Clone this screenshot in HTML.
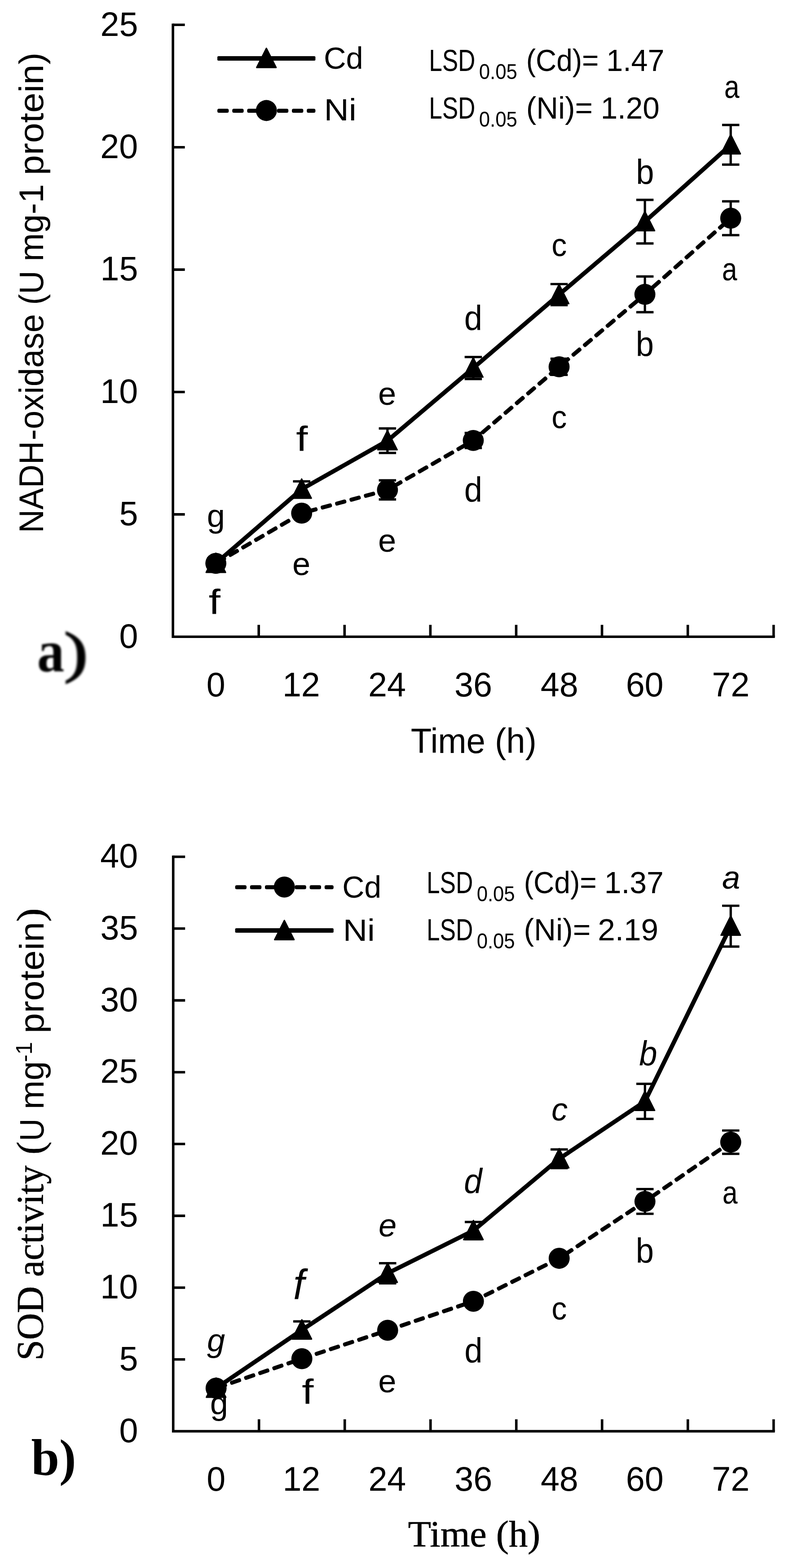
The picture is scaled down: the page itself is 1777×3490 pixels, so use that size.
<!DOCTYPE html>
<html lang="en"><head><meta charset="utf-8"><title>NADH-oxidase and SOD activity</title>
<style>
html,body{margin:0;padding:0;background:#fff}
svg{display:block}
text{fill:#000;white-space:pre}
.s{font-family:"Liberation Sans",sans-serif}
.r{font-family:"Liberation Serif",serif;stroke:#000;stroke-width:0.7px}
.i{font-style:italic}
.b{font-weight:bold;stroke:none}
</style></head><body>
<svg width="1777" height="3490" viewBox="0 0 1777 3490">
<defs><filter id="bl" x="-20%" y="-20%" width="140%" height="140%"><feGaussianBlur stdDeviation="2.2"/></filter></defs>
<rect width="1777" height="3490" fill="#fff"/>
<g>
<path d="M385.1 52.5V1417.3H1725.5" fill="none" stroke="#000" stroke-width="5.6" stroke-linejoin="miter"/>
<path d="M385.1 55.30h26.5M385.1 327.70h26.5M385.1 600.10h26.5M385.1 872.50h26.5M385.1 1144.90h26.5M576.19 1417.3v-26.5M767.27 1417.3v-26.5M958.36 1417.3v-26.5M1149.44 1417.3v-26.5M1340.53 1417.3v-26.5M1531.61 1417.3v-26.5M1722.70 1417.3v-26.5" fill="none" stroke="#000" stroke-width="5.6"/>
<path d="M480.64 1253.86L671.73 1088.79L862.81 980.92L1053.90 819.11L1244.99 655.67L1436.07 493.32L1627.16 322.25" fill="none" stroke="#000" stroke-width="9.5" stroke-linecap="round" stroke-linejoin="round"/>
<path d="M480.64 1242.96V1264.76M461.39 1242.96h38.5M461.39 1264.76h38.5M671.73 1071.35V1106.22M652.48 1071.35h38.5M652.48 1106.22h38.5M862.81 953.68V1008.16M843.56 953.68h38.5M843.56 1008.16h38.5M1053.90 794.59V843.63M1034.65 794.59h38.5M1034.65 843.63h38.5M1244.99 632.24V679.10M1225.74 632.24h38.5M1225.74 679.10h38.5M1436.07 444.83V541.81M1416.82 444.83h38.5M1416.82 541.81h38.5M1627.16 278.12V366.38M1607.91 278.12h38.5M1607.91 366.38h38.5" fill="none" stroke="#000" stroke-width="5.2"/>
<path d="M480.64 1231.26L502.24 1274.06H459.04Z" fill="#000" stroke="#000" stroke-width="3" stroke-linejoin="round"/>
<path d="M671.73 1066.19L693.33 1108.99H650.13Z" fill="#000" stroke="#000" stroke-width="3" stroke-linejoin="round"/>
<path d="M862.81 958.32L884.41 1001.12H841.21Z" fill="#000" stroke="#000" stroke-width="3" stroke-linejoin="round"/>
<path d="M1053.90 796.51L1075.50 839.31H1032.30Z" fill="#000" stroke="#000" stroke-width="3" stroke-linejoin="round"/>
<path d="M1244.99 633.07L1266.59 675.87H1223.39Z" fill="#000" stroke="#000" stroke-width="3" stroke-linejoin="round"/>
<path d="M1436.07 470.72L1457.67 513.52H1414.47Z" fill="#000" stroke="#000" stroke-width="3" stroke-linejoin="round"/>
<path d="M1627.16 299.65L1648.76 342.45H1605.56Z" fill="#000" stroke="#000" stroke-width="3" stroke-linejoin="round"/>
<path d="M484.17 1252.96L500.05 1243.67L499.05 1241.95L483.16 1251.23ZM512.83 1236.20L528.72 1226.92L527.71 1225.19L511.82 1234.48ZM541.50 1219.45L557.38 1210.17L556.37 1208.44L540.49 1217.72ZM570.16 1202.70L586.04 1193.41L585.04 1191.69L569.15 1200.97ZM598.82 1185.95L614.71 1176.66L613.70 1174.93L597.81 1184.22ZM627.49 1169.19L643.37 1159.91L642.36 1158.18L626.48 1167.47ZM656.15 1152.44L669.21 1144.81L668.20 1143.08L655.14 1150.71ZM674.05 1144.53L674.07 1144.52L672.56 1138.97L672.55 1138.98ZM686.05 1139.33L703.81 1134.52L703.29 1132.59L685.53 1137.40ZM718.10 1130.65L735.86 1125.84L735.34 1123.91L717.58 1128.72ZM750.14 1121.97L767.90 1117.16L767.38 1115.23L749.62 1120.04ZM782.19 1113.29L799.95 1108.48L799.43 1106.55L781.67 1111.36ZM814.23 1104.61L831.99 1099.80L831.47 1097.87L813.71 1102.68ZM846.28 1095.93L859.70 1092.30L859.17 1090.37L845.76 1094.00ZM865.88 1091.26L865.90 1091.25L863.64 1087.33L863.63 1087.34ZM877.00 1083.40L892.95 1074.22L891.95 1072.49L876.01 1081.67ZM905.77 1066.83L921.72 1057.65L920.72 1055.92L904.78 1065.10ZM934.54 1050.26L950.49 1041.08L949.49 1039.35L933.55 1048.53ZM963.31 1033.69L979.26 1024.51L978.26 1022.78L962.32 1031.96ZM992.08 1017.13L1008.03 1007.94L1007.03 1006.21L991.09 1015.39ZM1020.85 1000.56L1036.80 991.37L1035.80 989.64L1019.86 998.82ZM1049.62 983.99L1051.37 982.98L1050.37 981.25L1048.63 982.25ZM1057.21 978.85L1064.33 972.74L1063.03 971.22L1055.90 977.33ZM1075.56 963.10L1089.53 951.11L1088.22 949.60L1074.26 961.58ZM1100.76 941.48L1114.72 929.49L1113.42 927.98L1099.46 939.96ZM1125.95 919.85L1139.92 907.87L1138.61 906.35L1124.65 918.34ZM1151.15 898.23L1165.11 886.25L1163.81 884.73L1149.84 896.72ZM1176.34 876.61L1190.30 864.63L1189.00 863.11L1175.04 875.09ZM1201.54 854.99L1215.50 843.01L1214.20 841.49L1200.23 853.47ZM1226.73 833.37L1240.69 821.39L1239.39 819.87L1225.43 831.85ZM1251.96 811.81L1266.02 799.94L1264.73 798.41L1250.67 810.28ZM1277.34 790.39L1291.40 778.53L1290.11 777.00L1276.05 788.87ZM1302.71 768.98L1316.77 757.11L1315.48 755.59L1301.42 767.45ZM1328.08 747.57L1342.14 735.70L1340.85 734.17L1326.79 746.04ZM1353.45 726.16L1367.51 714.29L1366.22 712.76L1352.16 724.63ZM1378.82 704.74L1392.89 692.88L1391.60 691.35L1377.53 703.22ZM1404.20 683.33L1418.26 671.47L1416.97 669.94L1402.91 681.80ZM1429.57 661.92L1434.04 658.15L1432.75 656.62L1428.28 660.39ZM1439.35 653.55L1443.51 649.87L1442.18 648.37L1438.03 652.05ZM1454.58 640.05L1468.35 627.84L1467.02 626.35L1453.25 638.55ZM1479.42 618.02L1493.19 605.82L1491.86 604.32L1478.09 616.53ZM1504.26 596.00L1518.03 583.79L1516.70 582.29L1502.93 594.50ZM1529.10 573.97L1542.87 561.76L1541.54 560.27L1527.78 572.48ZM1553.94 551.95L1567.71 539.74L1566.38 538.24L1552.62 550.45ZM1578.78 529.92L1592.55 517.71L1591.23 516.22L1577.46 528.42ZM1603.63 507.89L1617.39 495.69L1616.07 494.19L1602.30 506.40ZM1628.28 488.96L1628.30 488.95L1624.06 484.17L1624.05 484.18Z" fill="#000" stroke="#000" stroke-width="7.0" stroke-linejoin="round"/>
<path d="M480.64 1242.96V1264.76M461.39 1242.96h38.5M461.39 1264.76h38.5M671.73 1134.00V1150.35M652.48 1134.00h38.5M652.48 1150.35h38.5M862.81 1069.17V1111.67M843.56 1069.17h38.5M843.56 1111.67h38.5M1053.90 963.48V997.26M1034.65 963.48h38.5M1034.65 997.26h38.5M1244.99 798.41V834.36M1225.74 798.41h38.5M1225.74 834.36h38.5M1436.07 615.35V694.90M1416.82 615.35h38.5M1416.82 694.90h38.5M1627.16 448.10V523.28M1607.91 448.10h38.5M1607.91 523.28h38.5" fill="none" stroke="#000" stroke-width="5.2"/>
<circle cx="480.64" cy="1253.86" r="23.4" fill="#000"/>
<circle cx="671.73" cy="1142.18" r="23.4" fill="#000"/>
<circle cx="862.81" cy="1090.42" r="23.4" fill="#000"/>
<circle cx="1053.90" cy="980.37" r="23.4" fill="#000"/>
<circle cx="1244.99" cy="816.39" r="23.4" fill="#000"/>
<circle cx="1436.07" cy="655.12" r="23.4" fill="#000"/>
<circle cx="1627.16" cy="485.69" r="23.4" fill="#000"/>
<rect x="484" y="124.9" width="218.39999999999998" height="10" rx="2.5" fill="#000"/>
<path d="M593.20 107.50L614.80 150.30H571.60Z" fill="#000" stroke="#000" stroke-width="3" stroke-linejoin="round"/>
<path d="M487.50 247.40L505.90 247.40L505.90 245.40L487.50 245.40ZM520.70 247.40L539.10 247.40L539.10 245.40L520.70 245.40ZM553.90 247.40L572.30 247.40L572.30 245.40L553.90 245.40ZM587.10 247.40L605.50 247.40L605.50 245.40L587.10 245.40ZM620.30 247.40L638.70 247.40L638.70 245.40L620.30 245.40ZM653.50 247.40L671.90 247.40L671.90 245.40L653.50 245.40ZM686.70 247.40L698.90 247.40L698.90 245.40L686.70 245.40Z" fill="#000" stroke="#000" stroke-width="7.0" stroke-linejoin="round"/>
<circle cx="593.20" cy="246.00" r="23.4" fill="#000"/>
<path d="M385.7 1904.2V3185.6H1725.5" fill="none" stroke="#000" stroke-width="5.6" stroke-linejoin="miter"/>
<path d="M385.7 1907.00h26.5M385.7 2066.82h26.5M385.7 2226.65h26.5M385.7 2386.47h26.5M385.7 2546.30h26.5M385.7 2706.12h26.5M385.7 2865.95h26.5M385.7 3025.77h26.5M576.70 3185.6v-26.5M767.70 3185.6v-26.5M958.70 3185.6v-26.5M1149.70 3185.6v-26.5M1340.70 3185.6v-26.5M1531.70 3185.6v-26.5M1722.70 3185.6v-26.5" fill="none" stroke="#000" stroke-width="5.6"/>
<path d="M484.84 3089.52L502.24 3083.54L501.59 3081.65L484.19 3087.62ZM516.24 3078.74L533.64 3072.77L532.99 3070.88L515.59 3076.85ZM547.64 3067.97L565.05 3062.00L564.40 3060.10L546.99 3066.08ZM579.04 3057.19L596.45 3051.22L595.80 3049.33L578.40 3055.30ZM610.45 3046.42L627.85 3040.45L627.20 3038.56L609.80 3044.53ZM641.85 3035.65L659.26 3029.67L658.61 3027.78L641.20 3033.75ZM671.92 3027.60L671.94 3027.59L669.90 3021.64L669.88 3021.65ZM675.84 3024.03L690.71 3019.10L690.08 3017.20L675.21 3022.13ZM704.76 3014.44L722.23 3008.65L721.60 3006.75L704.13 3012.54ZM736.28 3004.00L753.74 2998.21L753.11 2996.31L735.65 3002.10ZM767.79 2993.55L785.26 2987.77L784.63 2985.87L767.16 2991.66ZM799.31 2983.11L816.77 2977.32L816.14 2975.43L798.68 2981.21ZM830.82 2972.67L848.29 2966.88L847.66 2964.98L830.19 2970.77ZM861.61 2963.67L861.63 2963.66L860.29 2959.60L860.27 2959.60ZM866.84 2960.71L879.78 2956.34L879.13 2954.44L866.20 2958.82ZM893.80 2951.60L911.23 2945.71L910.59 2943.81L893.16 2949.70ZM925.25 2940.97L942.68 2935.07L942.04 2933.18L924.61 2939.07ZM956.70 2930.33L974.13 2924.44L973.49 2922.55L956.06 2928.44ZM988.15 2919.70L1005.58 2913.81L1004.94 2911.91L987.51 2917.81ZM1019.60 2909.07L1037.03 2903.18L1036.39 2901.28L1018.96 2907.17ZM1051.05 2898.44L1051.20 2898.38L1050.56 2896.49L1050.41 2896.54ZM1057.78 2895.64L1067.83 2890.62L1066.93 2888.83L1056.88 2893.86ZM1081.06 2883.99L1097.52 2875.76L1096.62 2873.97L1080.17 2882.20ZM1110.75 2869.14L1127.21 2860.90L1126.31 2859.11L1109.86 2867.35ZM1140.45 2854.28L1156.90 2846.04L1156.01 2844.26L1139.55 2852.49ZM1170.14 2839.42L1186.59 2831.19L1185.70 2829.40L1169.24 2837.63ZM1199.83 2824.56L1216.28 2816.33L1215.39 2814.54L1198.93 2822.78ZM1229.52 2809.71L1242.52 2803.20L1241.62 2801.41L1228.62 2807.92ZM1248.23 2801.83L1248.24 2801.82L1245.39 2797.52L1245.38 2797.53ZM1258.39 2793.20L1273.73 2783.03L1272.62 2781.37L1257.29 2791.53ZM1286.06 2774.86L1301.40 2764.69L1300.30 2763.03L1284.96 2773.19ZM1313.74 2756.52L1329.08 2746.35L1327.97 2744.69L1312.63 2754.85ZM1341.41 2738.18L1356.75 2728.01L1355.65 2726.35L1340.31 2736.51ZM1369.09 2719.84L1384.43 2709.67L1383.32 2708.01L1367.98 2718.17ZM1396.76 2701.50L1412.10 2691.33L1410.99 2689.66L1395.66 2699.83ZM1424.44 2683.16L1433.83 2676.93L1432.73 2675.26L1423.33 2681.49ZM1439.65 2672.99L1439.75 2672.92L1438.61 2671.28L1438.51 2671.35ZM1451.93 2664.51L1467.06 2654.04L1465.92 2652.40L1450.79 2662.86ZM1479.24 2645.63L1494.37 2635.17L1493.24 2633.52L1478.10 2643.98ZM1506.55 2626.75L1521.68 2616.29L1520.55 2614.65L1505.41 2625.11ZM1533.86 2607.88L1548.99 2597.41L1547.86 2595.77L1532.72 2606.23ZM1561.17 2589.00L1576.31 2578.54L1575.17 2576.89L1560.03 2587.35ZM1588.48 2570.12L1603.62 2559.66L1602.48 2558.01L1587.34 2568.48ZM1615.79 2551.25L1624.89 2544.96L1623.75 2543.31L1614.65 2549.60Z" fill="#000" stroke="#000" stroke-width="7.0" stroke-linejoin="round"/>
<path d="M481.20 3080.12V3099.29M461.95 3080.12h38.5M461.95 3099.29h38.5M672.20 3014.59V3033.77M652.95 3014.59h38.5M652.95 3033.77h38.5M863.20 2951.30V2970.48M843.95 2951.30h38.5M843.95 2970.48h38.5M1054.20 2886.73V2905.91M1034.95 2886.73h38.5M1034.95 2905.91h38.5M1245.20 2791.15V2810.33M1225.95 2791.15h38.5M1225.95 2810.33h38.5M1436.20 2646.67V2701.65M1416.95 2646.67h38.5M1416.95 2701.65h38.5M1627.20 2516.25V2568.04M1607.95 2516.25h38.5M1607.95 2568.04h38.5" fill="none" stroke="#000" stroke-width="5.2"/>
<circle cx="481.20" cy="3089.70" r="23.4" fill="#000"/>
<circle cx="672.20" cy="3024.18" r="23.4" fill="#000"/>
<circle cx="863.20" cy="2960.89" r="23.4" fill="#000"/>
<circle cx="1054.20" cy="2896.32" r="23.4" fill="#000"/>
<circle cx="1245.20" cy="2800.74" r="23.4" fill="#000"/>
<circle cx="1436.20" cy="2674.16" r="23.4" fill="#000"/>
<circle cx="1627.20" cy="2542.14" r="23.4" fill="#000"/>
<path d="M481.20 3089.70L672.20 2960.25L863.20 2833.99L1054.20 2739.05L1245.20 2579.22L1436.20 2451.36L1627.20 2061.39" fill="none" stroke="#000" stroke-width="9.5" stroke-linecap="round" stroke-linejoin="round"/>
<path d="M481.20 3080.12V3099.29M461.95 3080.12h38.5M461.95 3099.29h38.5M672.20 2941.07V2979.43M652.95 2941.07h38.5M652.95 2979.43h38.5M863.20 2811.61V2856.36M843.95 2811.61h38.5M843.95 2856.36h38.5M1054.20 2719.87V2758.23M1034.95 2719.87h38.5M1034.95 2758.23h38.5M1245.20 2558.45V2600.00M1225.95 2558.45h38.5M1225.95 2600.00h38.5M1436.20 2412.37V2490.36M1416.95 2412.37h38.5M1416.95 2490.36h38.5M1627.20 2016.00V2106.78M1607.95 2016.00h38.5M1607.95 2106.78h38.5" fill="none" stroke="#000" stroke-width="5.2"/>
<path d="M481.20 3067.11L502.80 3109.91H459.60Z" fill="#000" stroke="#000" stroke-width="3" stroke-linejoin="round"/>
<path d="M672.20 2937.65L693.80 2980.45H650.60Z" fill="#000" stroke="#000" stroke-width="3" stroke-linejoin="round"/>
<path d="M863.20 2811.39L884.80 2854.19H841.60Z" fill="#000" stroke="#000" stroke-width="3" stroke-linejoin="round"/>
<path d="M1054.20 2716.45L1075.80 2759.25H1032.60Z" fill="#000" stroke="#000" stroke-width="3" stroke-linejoin="round"/>
<path d="M1245.20 2556.62L1266.80 2599.42H1223.60Z" fill="#000" stroke="#000" stroke-width="3" stroke-linejoin="round"/>
<path d="M1436.20 2428.76L1457.80 2471.56H1414.60Z" fill="#000" stroke="#000" stroke-width="3" stroke-linejoin="round"/>
<path d="M1627.20 2038.79L1648.80 2081.59H1605.60Z" fill="#000" stroke="#000" stroke-width="3" stroke-linejoin="round"/>
<path d="M527.10 1975.70L545.50 1975.70L545.50 1973.70L527.10 1973.70ZM560.30 1975.70L578.70 1975.70L578.70 1973.70L560.30 1973.70ZM593.50 1975.70L611.90 1975.70L611.90 1973.70L593.50 1973.70ZM626.70 1975.70L645.10 1975.70L645.10 1973.70L626.70 1973.70ZM659.90 1975.70L678.30 1975.70L678.30 1973.70L659.90 1973.70ZM693.10 1975.70L711.50 1975.70L711.50 1973.70L693.10 1973.70ZM726.30 1975.70L739.30 1975.70L739.30 1973.70L726.30 1973.70Z" fill="#000" stroke="#000" stroke-width="7.0" stroke-linejoin="round"/>
<circle cx="633.20" cy="1974.30" r="23.4" fill="#000"/>
<rect x="523.6" y="2066.1" width="219.19999999999993" height="10" rx="2.5" fill="#000"/>
<path d="M633.20 2048.70L654.80 2091.50H611.60Z" fill="#000" stroke="#000" stroke-width="3" stroke-linejoin="round"/>
</g>
<g>
<text class="s" transform="translate(223.62,79.50) scale(1.0000,1)" font-size="75.40">25</text>
<text class="s" transform="translate(223.25,351.90) scale(1.0000,1)" font-size="75.40">20</text>
<text class="s" transform="translate(223.62,624.30) scale(1.0000,1)" font-size="75.40">15</text>
<text class="s" transform="translate(223.25,896.70) scale(1.0000,1)" font-size="75.40">10</text>
<text class="s" transform="translate(265.47,1169.10) scale(1.0000,1)" font-size="75.40">5</text>
<text class="s" transform="translate(265.47,1441.50) scale(1.0000,1)" font-size="75.40">0</text>
<text class="s" transform="translate(223.25,1930.90) scale(1.0000,1)" font-size="75.40">40</text>
<text class="s" transform="translate(223.62,2090.72) scale(1.0000,1)" font-size="75.40">35</text>
<text class="s" transform="translate(223.25,2250.55) scale(1.0000,1)" font-size="75.40">30</text>
<text class="s" transform="translate(223.62,2410.38) scale(1.0000,1)" font-size="75.40">25</text>
<text class="s" transform="translate(223.25,2570.20) scale(1.0000,1)" font-size="75.40">20</text>
<text class="s" transform="translate(223.62,2730.03) scale(1.0000,1)" font-size="75.40">15</text>
<text class="s" transform="translate(223.25,2889.85) scale(1.0000,1)" font-size="75.40">10</text>
<text class="s" transform="translate(265.47,3049.67) scale(1.0000,1)" font-size="75.40">5</text>
<text class="s" transform="translate(265.47,3209.50) scale(1.0000,1)" font-size="75.40">0</text>
<text class="s" transform="translate(459.72,1549.50) scale(1.0000,1)" font-size="75.40">0</text>
<text class="s" transform="translate(460.28,3317.50) scale(1.0000,1)" font-size="75.40">0</text>
<text class="s" transform="translate(628.94,1549.50) scale(1.0000,1)" font-size="75.40">12</text>
<text class="s" transform="translate(629.41,3317.50) scale(1.0000,1)" font-size="75.40">12</text>
<text class="s" transform="translate(820.02,1549.50) scale(1.0000,1)" font-size="75.40">24</text>
<text class="s" transform="translate(820.41,3317.50) scale(1.0000,1)" font-size="75.40">24</text>
<text class="s" transform="translate(1012.05,1549.50) scale(1.0000,1)" font-size="75.40">36</text>
<text class="s" transform="translate(1012.35,3317.50) scale(1.0000,1)" font-size="75.40">36</text>
<text class="s" transform="translate(1203.70,1549.50) scale(1.0000,1)" font-size="75.40">48</text>
<text class="s" transform="translate(1203.92,3317.50) scale(1.0000,1)" font-size="75.40">48</text>
<text class="s" transform="translate(1393.66,1549.50) scale(1.0000,1)" font-size="75.40">60</text>
<text class="s" transform="translate(1393.79,3317.50) scale(1.0000,1)" font-size="75.40">60</text>
<text class="s" transform="translate(1585.31,1549.50) scale(1.0000,1)" font-size="75.40">72</text>
<text class="s" transform="translate(1585.35,3317.50) scale(1.0000,1)" font-size="75.40">72</text>
<text class="s" transform="translate(914.80,1676.30) scale(0.9874,1)" font-size="77.00">Time (h)</text>
<text class="r" transform="translate(908.61,3441.60) scale(1.0243,1)" font-size="82.40">Time (h)</text>
<text class="s" transform="translate(96.30,1186.16) rotate(-90) scale(0.9582,1)" font-size="75.20">NADH</text>
<text class="s" transform="translate(96.30,980.05) rotate(-90) scale(0.9896,1)" font-size="75.20">-oxidase</text>
<text class="s" transform="translate(96.30,678.52) rotate(-90) scale(0.9577,1)" font-size="75.20">(U</text>
<text class="s" transform="translate(96.30,581.70) rotate(-90) scale(1.0030,1)" font-size="75.20">mg-1</text>
<text class="s" transform="translate(96.30,389.94) rotate(-90) scale(1.0724,1)" font-size="75.20">protein)</text>
<text class="r" transform="translate(96.30,3028.18) rotate(-90) scale(0.9737,1)" font-size="85.00">SOD activity</text>
<text class="r" transform="translate(96.30,2569.80) rotate(-90) scale(1.0196,1)" font-size="85.00">(</text>
<text class="s" transform="translate(96.50,2539.70) rotate(-90) scale(0.9215,1)" font-size="75.20">U</text>
<text class="s" transform="translate(96.50,2469.12) rotate(-90) scale(1.0269,1)" font-size="75.20">mg</text>
<text class="s" transform="translate(71.20,2363.98) rotate(-90) scale(1.0013,1)" font-size="50.50">-1</text>
<text class="s" transform="translate(96.50,2299.98) rotate(-90) scale(1.0793,1)" font-size="75.20">protein</text>
<text class="r" transform="translate(96.30,2051.75) rotate(-90) scale(1.0769,1)" font-size="85.00">)</text>
<text class="s" transform="translate(720.97,153.20) scale(0.9981,1)" font-size="68.80">Cd</text>
<text class="s" transform="translate(721.48,268.40) scale(1.1116,1)" font-size="68.80">Ni</text>
<text class="s" transform="translate(762.20,1997.90) scale(0.9894,1)" font-size="68.80">Cd</text>
<text class="s" transform="translate(763.78,2094.40) scale(1.0933,1)" font-size="68.80">Ni</text>
<text class="s" transform="translate(955.15,158.10) scale(0.7715,1)" font-size="68.80">LSD</text>
<text class="s" transform="translate(1066.75,176.20) scale(0.8918,1)" font-size="49.00">0.05</text>
<text class="s" transform="translate(1171.87,158.10) scale(0.9273,1)" font-size="68.80">(Cd)=</text>
<text class="s" transform="translate(1350.33,158.10) scale(0.9639,1)" font-size="68.80">1.47</text>
<text class="s" transform="translate(955.15,263.70) scale(0.7715,1)" font-size="68.80">LSD</text>
<text class="s" transform="translate(1066.75,281.80) scale(0.8918,1)" font-size="49.00">0.05</text>
<text class="s" transform="translate(1171.65,263.70) scale(0.9815,1)" font-size="68.80">(Ni)=</text>
<text class="s" transform="translate(1337.65,263.70) scale(0.9785,1)" font-size="68.80">1.20</text>
<text class="s" transform="translate(950.05,1987.50) scale(0.7715,1)" font-size="68.80">LSD</text>
<text class="s" transform="translate(1061.65,2005.60) scale(0.8918,1)" font-size="49.00">0.05</text>
<text class="s" transform="translate(1166.76,1987.50) scale(0.9310,1)" font-size="68.80">(Cd)=</text>
<text class="s" transform="translate(1345.71,1987.50) scale(0.9863,1)" font-size="68.80">1.37</text>
<text class="s" transform="translate(950.05,2093.00) scale(0.7715,1)" font-size="68.80">LSD</text>
<text class="s" transform="translate(1061.65,2111.10) scale(0.8918,1)" font-size="49.00">0.05</text>
<text class="s" transform="translate(1166.53,2093.00) scale(0.9850,1)" font-size="68.80">(Ni)=</text>
<text class="s" transform="translate(1331.34,2093.00) scale(1.0057,1)" font-size="68.80">2.19</text>
<text class="s" transform="translate(460.87,1172.70) scale(1.0000,1)" font-size="72.20">g</text>
<text class="s" transform="translate(659.16,1004.40) scale(1.3000,1.07)" font-size="72.20">f</text>
<text class="s" transform="translate(841.96,900.60) scale(1.0000,1)" font-size="72.20">e</text>
<text class="s" transform="translate(1033.87,734.70) scale(1.0000,1.07)" font-size="72.20">d</text>
<text class="s" transform="translate(1228.35,570.30) scale(0.9400,1)" font-size="72.20">c</text>
<text class="s" transform="translate(1416.26,409.80) scale(1.0000,1.07)" font-size="72.20">b</text>
<text class="s" transform="translate(1612.81,218.30) scale(0.8400,1)" font-size="72.20">a</text>
<text class="s" transform="translate(464.86,1367.00) scale(1.3000,1.07)" font-size="72.20">f</text>
<text class="s" transform="translate(650.96,1279.50) scale(1.0000,1)" font-size="72.20">e</text>
<text class="s" transform="translate(841.96,1228.00) scale(1.0000,1)" font-size="72.20">e</text>
<text class="s" transform="translate(1033.87,1117.00) scale(1.0000,1.07)" font-size="72.20">d</text>
<text class="s" transform="translate(1228.35,952.50) scale(0.9400,1)" font-size="72.20">c</text>
<text class="s" transform="translate(1415.66,793.20) scale(1.0000,1.07)" font-size="72.20">b</text>
<text class="s" transform="translate(1607.81,623.50) scale(0.8400,1)" font-size="72.20">a</text>
<text class="s i" transform="translate(460.94,3008.20) scale(1.0000,1)" font-size="72.20">g</text>
<text class="s i" transform="translate(652.95,2892.40) scale(1.2500,1.3)" font-size="72.20">f</text>
<text class="s i" transform="translate(842.96,2752.00) scale(1.0000,1)" font-size="72.20">e</text>
<text class="s i" transform="translate(1033.30,2655.80) scale(1.0000,1.08)" font-size="72.20">d</text>
<text class="s i" transform="translate(1228.05,2493.50) scale(1.0000,1)" font-size="72.20">c</text>
<text class="s i" transform="translate(1423.31,2371.60) scale(1.0000,1.08)" font-size="72.20">b</text>
<text class="s i" transform="translate(1607.93,1978.00) scale(1.0000,1)" font-size="72.20">a</text>
<text class="s" transform="translate(467.87,3147.60) scale(1.0000,1)" font-size="72.20">g</text>
<text class="s" transform="translate(672.16,3124.70) scale(1.3000,1.07)" font-size="72.20">f</text>
<text class="s" transform="translate(842.36,3099.00) scale(1.0000,1)" font-size="72.20">e</text>
<text class="s" transform="translate(1034.37,3033.20) scale(1.0000,1.07)" font-size="72.20">d</text>
<text class="s" transform="translate(1228.35,2936.50) scale(0.9400,1)" font-size="72.20">c</text>
<text class="s" transform="translate(1415.76,2811.20) scale(1.0000,1.07)" font-size="72.20">b</text>
<text class="s" transform="translate(1608.81,2678.50) scale(0.8400,1)" font-size="72.20">a</text>
<text class="r b" transform="translate(82.77,1493.94) scale(0.9233,1)" font-size="131.16" filter="url(#bl)">a</text>
<text class="r" transform="translate(142.98,1493.79) scale(1.2507,1)" font-size="125.78" filter="url(#bl)" style="stroke-width:3px">)</text>
<text class="r b" transform="translate(69.41,3283.30) scale(0.9860,1)" font-size="114.00">b)</text>
</g>
</svg>
</body></html>
